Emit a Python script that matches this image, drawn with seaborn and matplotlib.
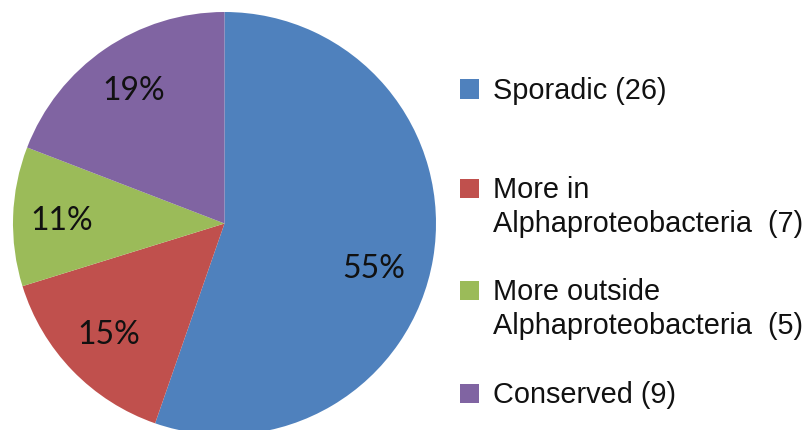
import matplotlib
matplotlib.use("Agg")
import matplotlib.pyplot as plt
from matplotlib.patches import Rectangle
import seaborn as sns

# Gene categories and their counts
categories = ["Sporadic", "More in Alphaproteobacteria", "More outside Alphaproteobacteria", "Conserved"]
counts = [26, 7, 5, 9]
legend_lines = [["Sporadic (26)"],
                ["More in", "Alphaproteobacteria  (7)"],
                ["More outside", "Alphaproteobacteria  (5)"],
                ["Conserved (9)"]]
colors = ["#4F81BD", "#C0504D", "#9BBB59", "#8064A2"]

sns.set_theme(style="white")
palette = sns.color_palette(colors)

W, H = 808, 430
fig = plt.figure(figsize=(W / 100, H / 100), dpi=100)
fig.patch.set_facecolor("white")

# pie axes: centre (224.5, 223.5) px, radius 211.5 px
cx, cy, r = 224.5, 223.5, 211.5
ax = fig.add_axes([(cx - r) / W, (H - cy - r) / H, 2 * r / W, 2 * r / H])

wedges, texts, autotexts = ax.pie(
    counts, colors=palette, startangle=90, counterclock=False,
    autopct="%.0f%%", pctdistance=0.76, radius=1.0,
    wedgeprops=dict(linewidth=0),
    textprops=dict(fontsize=23, family=["Lato", "DejaVu Sans"], color="#111111"),
)
ax.set_xlim(-1, 1)
ax.set_ylim(-1, 1)
ax.set_aspect("auto")
ax.axis("off")

# nudge the large slice label towards the lower right of its wedge
x0, y0 = autotexts[0].get_position()
autotexts[0].set_position((x0 - 0.045, y0 - 0.09))
x2, y2 = autotexts[2].get_position()
autotexts[2].set_position((x2 - 0.01, y2 - 0.015))

# legend drawn beside the pie: square aligned with the first text line
first_baselines = [99, 198, 300, 403]
line_step = 34
sq = 19
for base, lines, col in zip(first_baselines, legend_lines, palette):
    fig.patches.append(Rectangle((460 / W, (H - base + 0.5) / H), sq / W, sq / H,
                                 transform=fig.transFigure, facecolor=col,
                                 edgecolor="none"))
    for i, line in enumerate(lines):
        fig.text(493 / W, (H - base - i * line_step) / H, line, ha="left",
                 va="baseline", fontsize=20.8,
                 family=["Liberation Sans", "DejaVu Sans"], color="#111111")

fig.savefig("out.png", dpi=100)
